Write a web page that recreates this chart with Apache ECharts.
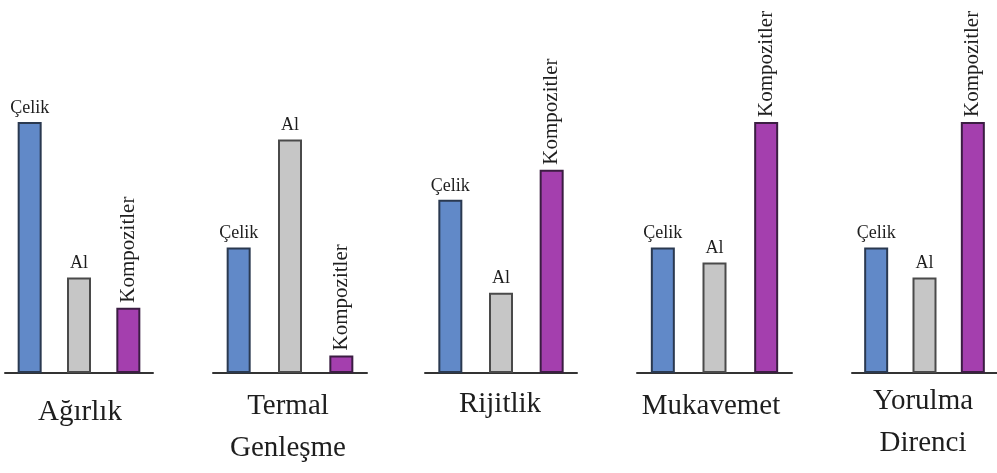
<!DOCTYPE html>
<html>
<head>
<meta charset="utf-8">
<script src="https://cdn.jsdelivr.net/npm/echarts@6/dist/echarts.min.js"></script>
<style>html,body{margin:0;padding:0;background:#fff}#c{width:997px;height:473px}</style>
</head>
<body>
<div id="c"></div>
<script>
const materials = ['Çelik', 'Al', 'Kompozitler'];
const groupTitles = ['Ağırlık', 'Termal\nGenleşme', 'Rijitlik', 'Mukavemet', 'Yorulma\nDirenci'];
const celik = [100, 50, 69, 50, 50];
const al = [38, 93, 32, 44, 38];
const kompozitler = [26, 7, 81, 100, 100];

const layout = [
  { left: 5, width: 148, tx: 80, ty: 391 },
  { left: 213, width: 154, tx: 288, ty: 385 },
  { left: 425, width: 152, tx: 500, ty: 383 },
  { left: 637, width: 155, tx: 711, ty: 385 },
  { left: 852, width: 153, tx: 923, ty: 380 }
];
const fills = ['#6189c8', '#c6c6c6', '#a43fae'];
const borders = ['#2a3950', '#4a4a4a', '#3b1d42'];
const font = 'Liberation Serif';

const grids = [], xAxes = [], yAxes = [], series = [], titles = [];
groupTitles.forEach((t, i) => {
  const L = layout[i];
  grids.push({ left: L.left, width: L.width, top: 122, height: 251 });
  xAxes.push({
    type: 'category', gridIndex: i, data: materials,
    axisLine: { lineStyle: { color: '#333', width: 2 } },
    axisTick: { show: false }, axisLabel: { show: false }
  });
  yAxes.push({ type: 'value', gridIndex: i, min: 0, max: 100, show: false, splitLine: { show: false } });
  const vals = [celik[i], al[i], kompozitler[i]];
  series.push({
    type: 'bar', xAxisIndex: i, yAxisIndex: i, barWidth: 24,
    data: vals.map((v, k) => ({
      value: v,
      itemStyle: { color: fills[k], borderColor: borders[k], borderWidth: 2 },
      label: k === 2
        ? { show: true, position: 'top', distance: 5, rotate: 90, align: 'left', verticalAlign: 'middle',
            formatter: '{b}', fontFamily: font, fontSize: 21, color: '#1e1e1e' }
        : { show: true, position: 'top', distance: 5, formatter: '{b}', fontFamily: font, fontSize: 18, color: '#1e1e1e' }
    })),
    animation: false
  });
  titles.push({
    text: t, left: L.tx, top: L.ty, textAlign: 'center', padding: 0,
    textStyle: { fontFamily: font, fontSize: 29, fontWeight: 'normal', color: '#1e1e1e', lineHeight: 42 }
  });
});

const chart = echarts.init(document.getElementById('c'));
chart.setOption({
  animation: false,
  title: titles,
  grid: grids,
  xAxis: xAxes,
  yAxis: yAxes,
  series: series
});
</script>
</body>
</html>
